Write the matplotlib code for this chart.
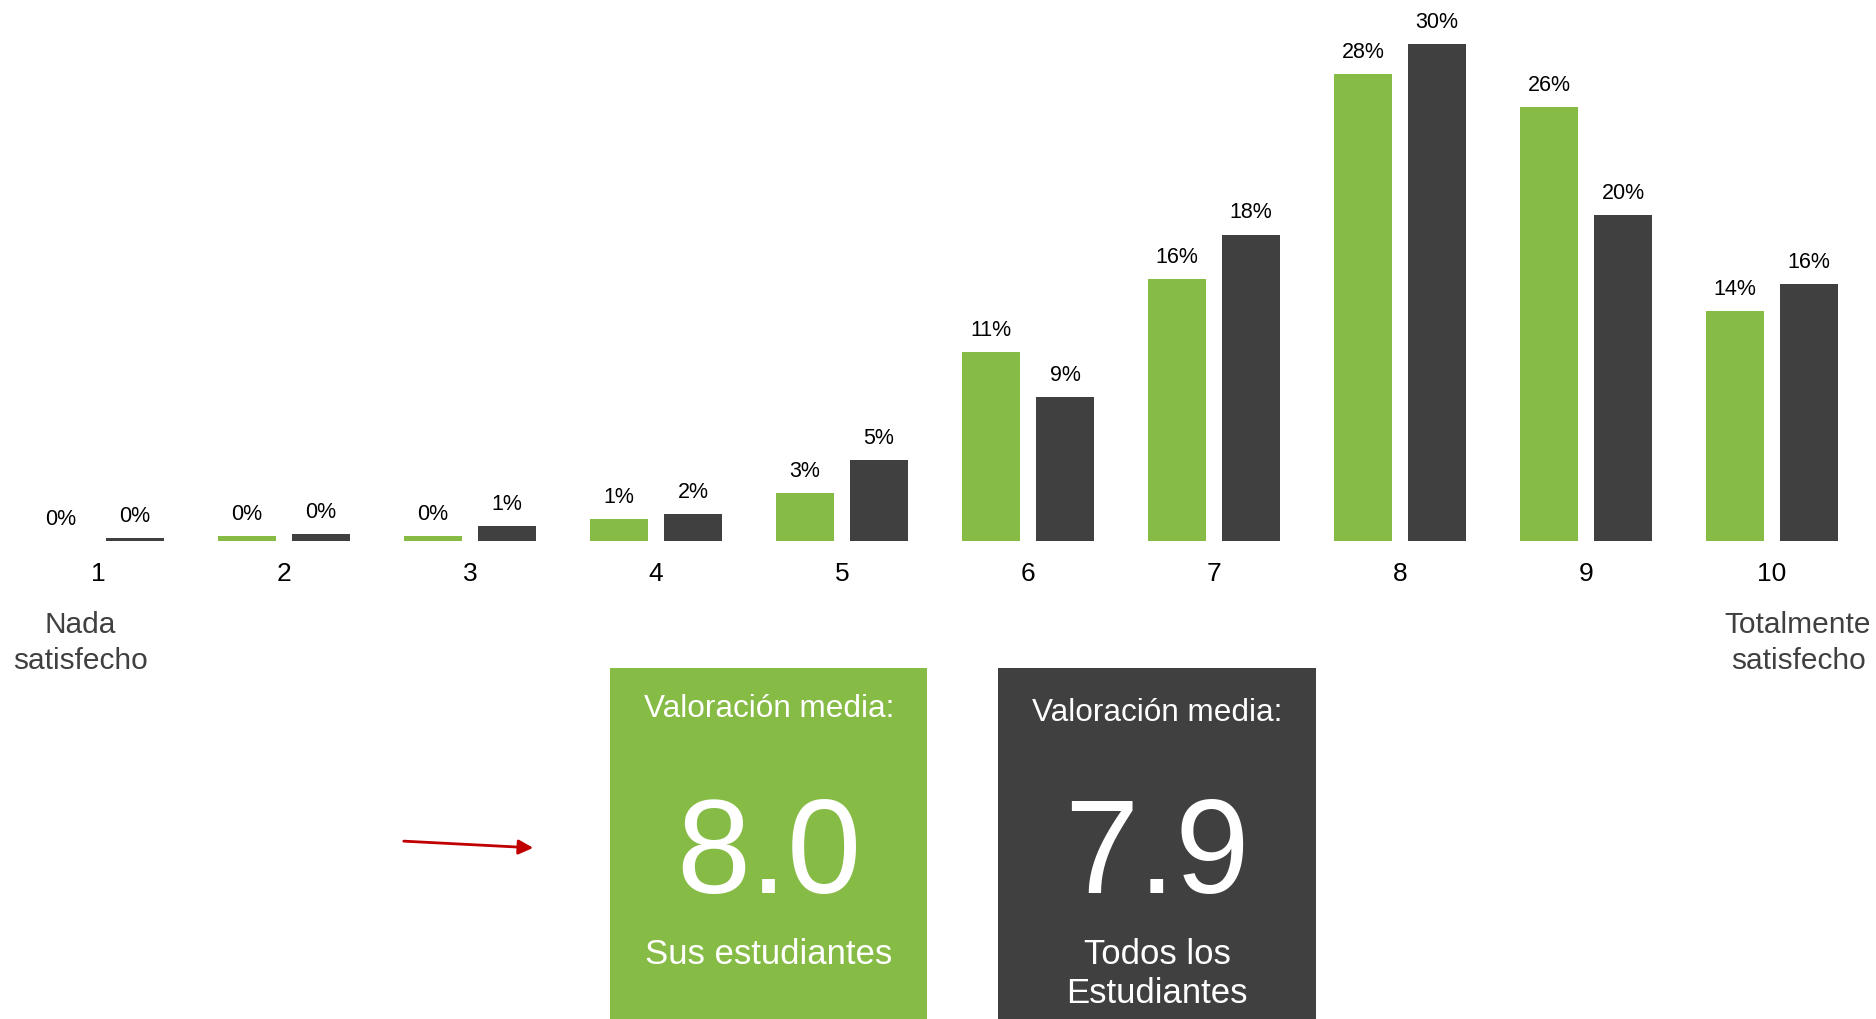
"""
Satisfaction score distribution: own students vs all students.
"""

import matplotlib.pyplot as plt
from matplotlib.patches import Rectangle

plt.rcParams["font.family"] = ["Liberation Sans", "DejaVu Sans"]

scores = [1, 2, 3, 4, 5, 6, 7, 8, 9, 10]
sus_estudiantes = [0.0, 0.3, 0.3, 1.3, 2.9, 11.4, 15.8, 28.2, 26.2, 13.9]
todos_estudiantes = [0.2, 0.4, 0.9, 1.6, 4.9, 8.7, 18.5, 30.0, 19.7, 15.5]
sus_labels = ["0%", "0%", "0%", "1%", "3%", "11%", "16%", "28%", "26%", "14%"]
todos_labels = ["0%", "0%", "1%", "2%", "5%", "9%", "18%", "30%", "20%", "16%"]
mean_sus = "8.0"
mean_todos = "7.9"

GREEN = "#86BC46"
DARK = "#404040"
W, H = 1876, 1019


def fx(px):
    return px / W


def fy(py):
    # pixel from top -> figure fraction from bottom
    return 1 - py / H


fig = plt.figure(figsize=(W / 100, H / 100), dpi=100)

# main bar chart, baseline at y=541px
ax = fig.add_axes([0, fy(541), 1, 530 / H])
x0 = 1 - 98 / 186
ax.set_xlim(x0, x0 + W / 186)
ax.set_ylim(0, 30 * 530 / 497)

off = 0.199
bw = 0.317
xs = list(scores)
ax.bar([x - off for x in xs], sus_estudiantes, width=bw, color=GREEN)
ax.bar([x + off for x in xs], todos_estudiantes, width=bw, color=DARK)

for x, v, lab in zip(xs, sus_estudiantes, sus_labels):
    ax.annotate(lab, (x - off, v), xytext=(0, 8), textcoords="offset points",
                ha="center", va="bottom", fontsize=15.5, color="black")
for x, v, lab in zip(xs, todos_estudiantes, todos_labels):
    ax.annotate(lab, (x + off, v), xytext=(0, 8), textcoords="offset points",
                ha="center", va="bottom", fontsize=15.5, color="black")

ax.set_xticks(xs)
ax.set_xticklabels([str(s) for s in scores], fontsize=19)
ax.tick_params(axis="x", length=0, pad=15)
ax.set_yticks([])
for sp in ax.spines.values():
    sp.set_visible(False)
ax.patch.set_visible(False)

# end-of-scale captions
fig.text(fx(80), fy(643), "Nada\nsatisfecho", ha="center", va="center",
         fontsize=21.5, color=DARK, linespacing=1.4)
fig.text(fx(1798), fy(643), "Totalmente\nsatisfecho", ha="center", va="center",
         fontsize=21.5, color=DARK, linespacing=1.4)

# mean value boxes
fig.add_artist(Rectangle((fx(610), 0), fx(317), fy(667.5), transform=fig.transFigure,
                         facecolor=GREEN, edgecolor="none"))
fig.add_artist(Rectangle((fx(998), 0), fx(318), fy(667.5), transform=fig.transFigure,
                         facecolor=DARK, edgecolor="none"))

fig.text(fx(769), fy(709), "Valoración media:", ha="center", va="center",
         fontsize=22.7, color="white")
fig.text(fx(769), fy(859), mean_sus, ha="center", va="center",
         fontsize=96, color="white")
fig.text(fx(769), fy(955), "Sus estudiantes", ha="center", va="center",
         fontsize=25, color="white")

fig.text(fx(1157), fy(713), "Valoración media:", ha="center", va="center",
         fontsize=22.7, color="white")
fig.text(fx(1157), fy(859), mean_todos, ha="center", va="center",
         fontsize=96, color="white")
fig.text(fx(1157), fy(974), "Todos los\nEstudiantes", ha="center", va="center",
         fontsize=25, color="white", linespacing=1.25)

# red pointer arrow
fig.add_artist(plt.Annotation("", xy=(fx(536), fy(848)), xytext=(fx(401), fy(841)),
                              xycoords="figure fraction", textcoords="figure fraction",
                              arrowprops=dict(arrowstyle="-|>", color="#C00000",
                                              lw=2, mutation_scale=22)))

plt.savefig("out.png", dpi=100)
